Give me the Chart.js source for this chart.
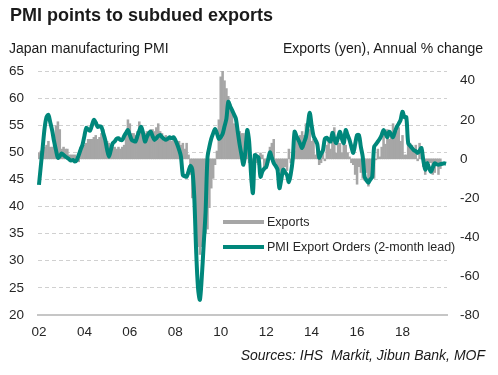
<!DOCTYPE html>
<html>
<head>
<meta charset="utf-8">
<script src="https://cdn.jsdelivr.net/npm/chart.js@4.4.1/dist/chart.umd.min.js"></script>
<style>
    html, body { margin: 0; padding: 0; background: #fff; }
    #wrap { position: relative; width: 498px; height: 375px; overflow: hidden;
            font-family: "Liberation Sans", Arial, sans-serif; color: #1a1a1a; }
    #wrap canvas { position: absolute; left: 0; top: 0; }
    .txt { position: absolute; white-space: nowrap; line-height: 1; }
    #title { left: 10px; top: 6px; font-size: 18px; font-weight: bold; }
    #leftCap { left: 9px; top: 41px; font-size: 14px; }
    #rightCap { right: 15px; top: 41px; font-size: 14px; }
    #source { right: 13px; top: 348px; font-size: 14px; font-style: italic; }
</style>
</head>
<body>
<div id="wrap">
    <canvas id="myChart" width="498" height="375"></canvas>
    <div class="txt" id="title">PMI points to subdued exports</div>
    <div class="txt" id="leftCap">Japan manufacturing PMI</div>
    <div class="txt" id="rightCap">Exports (yen), Annual % change</div>
    <div class="txt" id="source">Sources: IHS&nbsp; Markit, Jibun Bank, MOF</div>
</div>
<script>
// monthly data, Jan 2002 - Dec 2019
const years = [2002, 2003, 2004, 2005, 2006, 2007, 2008, 2009, 2010,
               2011, 2012, 2013, 2014, 2015, 2016, 2017, 2018, 2019]
const xTickLabels = ['02', '04', '06', '08', '10', '12', '14', '16', '18']
const leftTicks = [20, 25, 30, 35, 40, 45, 50, 55, 60, 65]
const rightTicks = [-80, -60, -40, -20, 0, 20, 40]

// exports (yen), annual % change  (right axis)
const exportsYoy = [
    3, 4, 5, 6, 7, 9, 6, 6, 7, 17, 19, 15,
    5, 6, 5, 5, 2, 2, 2, 2, 1, -1.5, 6, 7,
    7, 8, 10, 10, 10, 11, 12, 10, 11, 13, 15, 10,
    9, 8, 5, 6, 6, 5, 6, 5, 6, 7, 12, 20,
    18, 13, 13, 12, 14, 19, 17, 13, 13, 14, 13, 15,
    15, 14, 16, 18, 14, 13, 11, 12, 11, 10, 9, 10,
    9, 8, 9, 7, 8, 5, 8, 2, -8, -20, -30, -38,
    -45, -49, -45, -39, -38, -36, -25, -15, -10, -3, 4, 20,
    42, 45, 40, 36, 32, 28, 24, 18, 17, 14, 14, 13,
    13, 9, 8, -2, -12, -10, -5, -2, -3, 3, 2, -4,
    -5, -2, 6, 8, 10, -2, -8, -6, -10, -7, -4, -6,
    5, -2, 2, 4, 10, 8, 12, 14, 12, 18, 18, 15,
    9, 10, 2, 5, -3, -2, 4, -1, 7, 10, 5, 13,
    16, 3, 8, 8, 3, 9, 7, 3, 1, -2, -3, -8,
    -13, -4, -7, -10, -11, -7, -14, -10, -7, -10, -0.5, 5,
    1, 6, 12, 7.5, 15, 10, 13, 18, 14, 14, 16, 9,
    12, 2, 2, 8, 8, 7, 4, 7, -1, 8, 0, -4,
    -8, -1, -2, -2, -8, -7, -2, -8, -5, null, null, null,
]

// PMI export orders, 2-month lead  (left axis)
const pmiExportOrders = [
    44, 47.5, 51, 54.5, 56.5, 56.9, 55.5, 54, 52, 50.4, 49, 49.3,
    49.8, 49.5, 49.2, 49, 48.7, 48.5, 48.6, 48.3, 48.6, 49.5, 50.5, 51.4,
    53, 54.5, 54.2, 54, 55, 56, 55.5, 54.7, 54.8, 54.7, 53.5, 52.3,
    50.5, 49.2, 50.5, 51.7, 52, 52.5, 52.6, 52.3, 52.3, 53, 53.6, 54.1,
    53.2, 52.3, 52.1, 52, 53, 54, 54.7, 53.5, 52, 52.8, 53.5, 53.8,
    53, 52.3, 52.6, 53, 53.2, 52.8, 52.5, 52.3, 52.5, 52.8, 52.6, 52.8,
    52.3, 51.5, 50.5, 49.2, 45.8, 45.6, 45.5, 46.5, 47.5, 46.8, 42, 32,
    25, 22.8, 27, 33, 39, 49, 51, 52.5, 53.5, 54.3, 53.5, 52.5,
    52.8, 53.4, 54.8, 56.2, 59.3, 58.5, 57.8, 57, 56.2, 53.8, 51.4, 49.5,
    47.7, 50, 54.1, 52, 46, 42.5, 49.5, 49.3, 49, 45.5, 46.5, 47,
    47.3, 48.6, 50, 49, 48, 47.5, 46.8, 43.4, 45, 46.8, 46.3, 45.8,
    44.5, 46, 48.6, 53.8, 53, 52.3, 51.5, 50.8, 51.8, 52.8, 55, 57.3,
    55, 53, 52.3, 51.5, 49, 49.7, 50.4, 52.5, 52.7, 52.3, 52, 53.6,
    52.5, 51.7, 52.8, 53.8, 52.5, 51.7, 54.1, 53.2, 52.3, 51, 49.9, 51.5,
    53.2, 53.2, 51, 49.2, 45.5, 44.8, 44.4, 45, 45.5, 51, 51.5, 52,
    52.5, 53.2, 54.1, 53.5, 52.8, 53.8, 53.3, 52.8, 53.8, 54.7, 55.3, 56,
    57.5, 56.5, 56.5, 51.7, 51.2, 50.8, 50.4, 50.2, 49.9, 50.3, 50.8, 48.5,
    46.8, 48, 47.2, 46.4, 47.2, 48, 47.8, 47.7, 47.8, 47.9, 48, 47.9,
]

const FONT = '"Liberation Sans", Arial, sans-serif'
const TEXT = '#262626'
const GREY = '#A6A6A6'
const TEAL = '#00877B'

let labels = []
years.forEach((y) => {
    for (let m = 1; m <= 12; m++) labels.push(y + '-' + String(m).padStart(2, '0'))
})

// legend sits inside the plot, below the curves
const insideLegend = {
    id: 'insideLegend',
    afterDatasetsDraw(chart) {
        const c = chart.ctx
        const rows = [
            { ds: chart.data.datasets[0], color: GREY, y: 222 },
            { ds: chart.data.datasets[1], color: TEAL, y: 247 },
        ]
        c.save()
        c.font = '12.5px ' + FONT
        c.textBaseline = 'middle'
        rows.forEach((r) => {
            c.strokeStyle = r.color
            c.lineWidth = 4
            c.beginPath()
            c.moveTo(223, r.y)
            c.lineTo(264, r.y)
            c.stroke()
            c.fillStyle = TEXT
            c.fillText(r.ds.label, 267, r.y + 1)
        })
        c.restore()
    },
}

const ctx = document.getElementById('myChart').getContext('2d')

const config = {
    type: 'bar',
    data: {
        labels: labels,
        datasets: [
            {
                type: 'bar',
                label: 'Exports',
                data: exportsYoy,
                yAxisID: 'y1',
                backgroundColor: GREY,
                barPercentage: 1,
                categoryPercentage: 1,
                order: 2,
            },
            {
                type: 'line',
                label: 'PMI Export Orders (2-month lead)',
                data: pmiExportOrders,
                yAxisID: 'y',
                borderColor: TEAL,
                borderWidth: 4,
                pointRadius: 0,
                tension: 0.3,
                fill: false,
                order: 1,
            },
        ],
    },
    options: {
        responsive: false,
        animation: false,
        layout: { padding: { top: 71, left: 0, right: 0, bottom: 0 } },
        plugins: {
            legend: { display: false },
            tooltip: { enabled: false },
        },
        scales: {
            x: {
                grid: { display: false, drawTicks: false },
                border: { display: true, color: '#C6C6C6', width: 2 },
                ticks: {
                    autoSkip: false,
                    maxRotation: 0,
                    padding: 9,
                    color: TEXT,
                    font: { family: FONT, size: 13.5 },
                    callback(val, i) {
                        const yy = labels[i].slice(2, 4)
                        const mm = labels[i].slice(5)
                        return (mm === '01' && xTickLabels.includes(yy)) ? yy : ''
                    },
                },
                afterFit(s) { s.height = 60 },
            },
            y: {
                position: 'left',
                min: 20,
                max: 65,
                afterBuildTicks(s) { s.ticks = leftTicks.map((v) => ({ value: v })) },
                grid: { color: '#D0D0D0', lineWidth: 1, drawTicks: false },
                border: { display: false, dash: [4, 3] },
                ticks: { padding: 14, color: TEXT, font: { family: FONT, size: 13.5 } },
                afterFit(s) { s.width = 38 },
            },
            y1: {
                position: 'right',
                min: -80,
                max: 45,
                afterBuildTicks(s) { s.ticks = rightTicks.map((v) => ({ value: v })) },
                grid: { display: false, drawTicks: false },
                border: { display: false },
                ticks: { padding: 13, color: TEXT, font: { family: FONT, size: 13.5 } },
                afterFit(s) { s.width = 51 },
            },
        },
    },
    plugins: [insideLegend],
}

const myChart = new Chart(ctx, config)
</script>
</body>
</html>
